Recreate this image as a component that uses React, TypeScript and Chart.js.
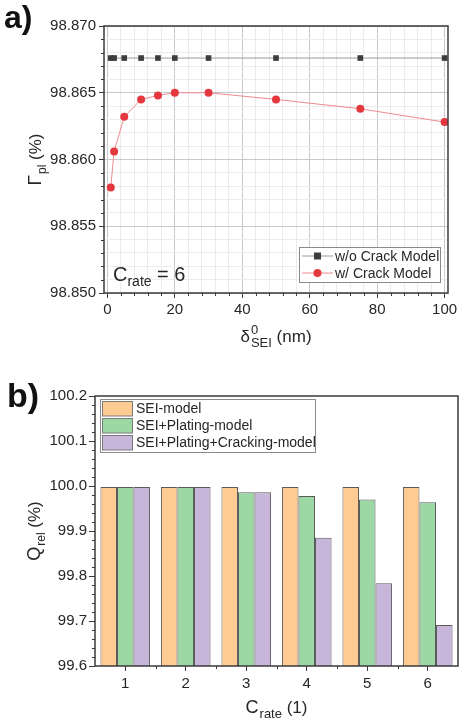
import React, { useEffect, useRef } from "react";
import { Chart, registerables } from "chart.js";
Chart.register(...registerables);

// ---------- data: panel a ----------
const sei_thickness = [1, 2, 5, 10, 15, 20, 30, 50, 75, 100];
const gamma_noCrack = [98.8676, 98.8676, 98.8676, 98.8676, 98.8676, 98.8676, 98.8676, 98.8676, 98.8676, 98.8676];
const gamma_crack = [98.8579, 98.8606, 98.8632, 98.8645, 98.8648, 98.865, 98.865, 98.8645, 98.8638, 98.8628];
const seriesA_labels = ["w/o Crack Model", "w/ Crack Model"];
const xTicksA = [0, 20, 40, 60, 80, 100];
const yTicksA = [98.85, 98.855, 98.86, 98.865, 98.87];

// ---------- data: panel b ----------
const c_rates = ["1", "2", "3", "4", "5", "6"];
const q_sei = [99.998, 99.998, 99.998, 99.998, 99.998, 99.998];
const q_plating = [99.998, 99.998, 99.986, 99.978, 99.97, 99.964];
const q_cracking = [99.998, 99.998, 99.986, 99.885, 99.784, 99.691];
const seriesB_labels = ["SEI-model", "SEI+Plating-model", "SEI+Plating+Cracking-model"];
const yTicksB = [99.6, 99.7, 99.8, 99.9, 100.0, 100.1, 100.2];

const FONT = '"Liberation Sans", Arial, sans-serif';
const TXT = "#262626";
const AXIS = "#3a3a3a";

type Part = { t: string; size: number; sup?: string; sub?: string; subSize?: number };

function drawRich(ctx: CanvasRenderingContext2D, parts: Part[], cx: number, by: number, angle: number) {
  ctx.save();
  ctx.translate(cx, by);
  ctx.rotate(angle);
  ctx.fillStyle = TXT;
  ctx.textBaseline = "alphabetic";
  ctx.textAlign = "left";
  const widths = parts.map((p) => {
    ctx.font = `${p.size}px ${FONT}`;
    let w = ctx.measureText(p.t).width;
    if (p.sup || p.sub) {
      ctx.font = `${p.subSize || 12}px ${FONT}`;
      const w1 = p.sup ? ctx.measureText(p.sup).width : 0;
      const w2 = p.sub ? ctx.measureText(p.sub).width : 0;
      w += Math.max(w1, w2) + 1;
    }
    return w;
  });
  const total = widths.reduce((a, b) => a + b, 0);
  let x = -total / 2;
  parts.forEach((p, i) => {
    ctx.font = `${p.size}px ${FONT}`;
    ctx.fillText(p.t, x, 0);
    const w0 = ctx.measureText(p.t).width;
    ctx.font = `${p.subSize || 12}px ${FONT}`;
    if (p.sup) ctx.fillText(p.sup, x + w0 + 1, -p.size * 0.45);
    if (p.sub) ctx.fillText(p.sub, x + w0 + 1, p.size * 0.28);
    x += widths[i];
  });
  ctx.restore();
}

const near = (a: number, b: number) => Math.abs(a - b) < 1e-7;

function drawFrame(chart: any) {
  const { ctx, chartArea: a } = chart;
  ctx.save();
  ctx.strokeStyle = AXIS;
  ctx.lineWidth = 1.5;
  ctx.strokeRect(a.left, a.top, a.right - a.left, a.bottom - a.top);
  ctx.restore();
}

function drawMinorTicks(chart: any, xVals: number[], yVals: number[], len: number) {
  const { ctx, chartArea: a, scales } = chart;
  ctx.save();
  ctx.strokeStyle = AXIS;
  ctx.lineWidth = 1;
  ctx.beginPath();
  xVals.forEach((v) => {
    const px = Math.round(scales.x.getPixelForValue(v)) + 0.5;
    ctx.moveTo(px, a.bottom);
    ctx.lineTo(px, a.bottom + len);
  });
  yVals.forEach((v) => {
    const py = Math.round(scales.y.getPixelForValue(v)) + 0.5;
    ctx.moveTo(a.left, py);
    ctx.lineTo(a.left - len, py);
  });
  ctx.stroke();
  ctx.restore();
}

// ---------- plugins ----------
const frameA = {
  id: "frameA",
  afterDatasetsDraw(chart: any) {
    drawFrame(chart);
    const xs: number[] = [];
    for (let v = 0; v <= 100; v += 4) if (!xTicksA.includes(v)) xs.push(v);
    const ys: number[] = [];
    for (let k = 0; k <= 20; k++) {
      const v = 98.85 + k * 0.001;
      if (!yTicksA.some((m) => near(m, v))) ys.push(v);
    }
    drawMinorTicks(chart, xs, ys, 3);
  },
  afterDraw(chart: any) {
    const { ctx, chartArea: a } = chart;
    const ds = chart.data.datasets;
    const bx = 299, by = 247, bw = 141, bh = 35;
    ctx.save();
    ctx.fillStyle = "#fff";
    ctx.fillRect(bx, by, bw, bh);
    ctx.strokeStyle = "#8a8a8a";
    ctx.lineWidth = 1;
    ctx.strokeRect(bx + 0.5, by + 0.5, bw, bh);
    ds.forEach((d: any, i: number) => {
      const y = by + 9 + i * 17;
      ctx.strokeStyle = d.borderColor;
      ctx.lineWidth = 1;
      ctx.beginPath();
      ctx.moveTo(bx + 3, y);
      ctx.lineTo(bx + 34, y);
      ctx.stroke();
      ctx.fillStyle = d.pointBackgroundColor;
      if (d.pointStyle === "rect") {
        ctx.fillRect(bx + 18.5 - 3.5, y - 3.5, 7, 7);
      } else {
        ctx.beginPath();
        ctx.arc(bx + 18.5, y, 4, 0, Math.PI * 2);
        ctx.fill();
      }
      ctx.fillStyle = TXT;
      ctx.font = `14px ${FONT}`;
      ctx.textBaseline = "middle";
      ctx.fillText(d.label, bx + 36, y + 1);
    });
    ctx.fillStyle = TXT;
    ctx.textBaseline = "alphabetic";
    ctx.font = `20px ${FONT}`;
    const cx = a.left + 9, cy = a.bottom - 12;
    ctx.fillText("C", cx, cy);
    const wC = ctx.measureText("C").width;
    ctx.font = `14px ${FONT}`;
    ctx.fillText("rate", cx + wC, cy + 5);
    const wr = ctx.measureText("rate").width;
    ctx.font = `20px ${FONT}`;
    ctx.fillText(" = 6", cx + wC + wr, cy);
    ctx.restore();
    drawRich(ctx, [{ t: "Γ", size: 19, sub: "pl", subSize: 12 }, { t: " (%)", size: 17 }], 41, (a.top + a.bottom) / 2, -Math.PI / 2);
    drawRich(
      ctx,
      [{ t: "δ", size: 17, sup: "0", sub: "SEI", subSize: 13 }, { t: " (nm)", size: 17 }],
      (a.left + a.right) / 2,
      342,
      0
    );
  },
};

const frameB = {
  id: "frameB",
  afterDatasetsDraw(chart: any) {
    drawFrame(chart);
    const xs = c_rates.map((_, i) => i + 0.5).slice(0, c_rates.length - 1);
    const ys: number[] = [];
    for (let k = 0; k <= 30; k++) {
      const v = 99.6 + k * 0.02;
      if (!yTicksB.some((m) => near(m, v))) ys.push(v);
    }
    drawMinorTicks(chart, xs, ys, 3);
  },
  afterDraw(chart: any) {
    const { ctx, chartArea: a } = chart;
    const ds = chart.data.datasets;
    const bx = 100, by = 39, bw = 215, bh = 53;
    ctx.save();
    ctx.fillStyle = "#fff";
    ctx.fillRect(bx, by, bw, bh);
    ctx.strokeStyle = "#8a8a8a";
    ctx.lineWidth = 1;
    ctx.strokeRect(bx + 0.5, by + 0.5, bw, bh);
    ds.forEach((d: any, i: number) => {
      const y = by + 9.5 + i * 17;
      ctx.fillStyle = d.backgroundColor;
      ctx.fillRect(bx + 2.5, y - 7, 30, 14.5);
      ctx.strokeStyle = "#7a7a7a";
      ctx.strokeRect(bx + 2.5, y - 7, 30, 14.5);
      ctx.fillStyle = TXT;
      ctx.font = `14px ${FONT}`;
      ctx.textBaseline = "middle";
      ctx.fillText(d.label, bx + 36, y + 1);
    });
    ctx.restore();
    drawRich(ctx, [{ t: "Q", size: 18, sub: "rel", subSize: 12 }, { t: " (%)", size: 17 }], 40, (a.top + a.bottom) / 2, -Math.PI / 2);
    drawRich(ctx, [{ t: "C", size: 18, sub: "rate", subSize: 13 }, { t: " (1)", size: 17 }], (a.left + a.right) / 2, 353, 0);
  },
};

function ChartA() {
  const ref = useRef<HTMLCanvasElement | null>(null);
  useEffect(() => {
    const chart = new Chart(ref.current!, {
      type: "line",
      data: {
        datasets: [
          {
            label: seriesA_labels[0],
            data: sei_thickness.map((x, i) => ({ x, y: gamma_noCrack[i] })),
            borderColor: "#9a9a9a",
            borderWidth: 1,
            pointStyle: "rect",
            pointRadius: 4,
            pointBackgroundColor: "#3d3d3d",
            pointBorderColor: "#3d3d3d",
            pointBorderWidth: 0,
          },
          {
            label: seriesA_labels[1],
            data: sei_thickness.map((x, i) => ({ x, y: gamma_crack[i] })),
            borderColor: "#f08a8e",
            borderWidth: 1,
            pointStyle: "circle",
            pointRadius: 4,
            pointBackgroundColor: "#e4383f",
            pointBorderColor: "#e4383f",
            pointBorderWidth: 0,
          },
        ],
      },
      options: {
        animation: false,
        responsive: false,
        devicePixelRatio: 1,
        layout: { padding: { left: 0, right: 26, top: 26, bottom: 37 } },
        plugins: { legend: { display: false }, tooltip: { enabled: false } },
        scales: {
          x: {
            type: "linear",
            min: -1,
            max: 101,
            afterFit: (s: any) => {
              s.height = 30;
            },
            afterBuildTicks: (s: any) => {
              const t = [];
              for (let v = 0; v <= 100; v += 4) t.push({ value: v });
              s.ticks = t;
            },
            border: { display: false },
            grid: {
              color: (c: any) => (xTicksA.includes(c.tick?.value) ? "#c9c9c9" : "#ececec"),
              lineWidth: 1,
              tickColor: (c: any) => (xTicksA.includes(c.tick?.value) ? AXIS : "rgba(0,0,0,0)"),
              tickLength: 5,
            },
            ticks: {
              autoSkip: false,
              maxRotation: 0,
              padding: 3,
              color: TXT,
              font: { family: FONT, size: 15 },
              callback: (v: any) => (xTicksA.includes(Number(v)) ? String(v) : ""),
            },
          },
          y: {
            type: "linear",
            min: 98.85,
            max: 98.87,
            afterFit: (s: any) => {
              s.width = 104;
            },
            afterBuildTicks: (s: any) => {
              const t = [];
              for (let k = 0; k <= 20; k++) t.push({ value: 98.85 + k * 0.001 });
              s.ticks = t;
            },
            border: { display: false },
            grid: {
              color: (c: any) => (yTicksA.some((m) => near(m, c.tick?.value ?? 0)) ? "#c9c9c9" : "#ececec"),
              lineWidth: 1,
              tickColor: (c: any) => (yTicksA.some((m) => near(m, c.tick?.value ?? 0)) ? AXIS : "rgba(0,0,0,0)"),
              tickLength: 5,
            },
            ticks: {
              autoSkip: false,
              padding: 3,
              color: TXT,
              font: { family: FONT, size: 15 },
              callback: (v: any) => {
                const m = yTicksA.find((t) => near(t, Number(v)));
                return m !== undefined ? m.toFixed(3) : "";
              },
            },
          },
        },
      },
      plugins: [frameA],
    } as any);
    return () => chart.destroy();
  }, []);
  return <canvas ref={ref} width={474} height={360} style={{ position: "absolute", left: 0, top: 0, width: 474, height: 360 }} />;
}

function ChartB() {
  const ref = useRef<HTMLCanvasElement | null>(null);
  useEffect(() => {
    const common = { borderColor: "#5a5a5a", borderWidth: 1, barPercentage: 1, categoryPercentage: 0.82 };
    const chart = new Chart(ref.current!, {
      type: "bar",
      data: {
        labels: c_rates,
        datasets: [
          { label: seriesB_labels[0], data: q_sei, backgroundColor: "#fecb93", ...common },
          { label: seriesB_labels[1], data: q_plating, backgroundColor: "#9bd8a3", ...common },
          { label: seriesB_labels[2], data: q_cracking, backgroundColor: "#c8b5da", ...common },
        ],
      },
      options: {
        animation: false,
        responsive: false,
        devicePixelRatio: 1,
        layout: { padding: { left: 0, right: 16, top: 36, bottom: 25 } },
        plugins: { legend: { display: false }, tooltip: { enabled: false } },
        scales: {
          x: {
            afterFit: (s: any) => {
              s.height = 30;
            },
            border: { display: false },
            grid: { offset: false, drawOnChartArea: false, tickColor: AXIS, tickLength: 5 },
            ticks: { padding: 4, color: TXT, font: { family: FONT, size: 15 } },
          },
          y: {
            type: "linear",
            min: 99.6,
            max: 100.2,
            afterFit: (s: any) => {
              s.width = 95;
            },
            afterBuildTicks: (s: any) => {
              const t = [];
              for (let k = 0; k <= 6; k++) t.push({ value: 99.6 + k * 0.1 });
              s.ticks = t;
            },
            border: { display: false },
            grid: {
              drawOnChartArea: false,
              tickColor: AXIS,
              tickLength: 6,
            },
            ticks: {
              autoSkip: false,
              padding: 2,
              color: TXT,
              font: { family: FONT, size: 15 },
              callback: (v: any) => {
                const m = yTicksB.find((t) => near(t, Number(v)));
                return m !== undefined ? m.toFixed(1) : "";
              },
            },
          },
        },
      },
      plugins: [frameB],
    } as any);
    return () => chart.destroy();
  }, []);
  return <canvas ref={ref} width={474} height={361} style={{ position: "absolute", left: 0, top: 360, width: 474, height: 361 }} />;
}

export default function App() {
  return (
    <div style={{ position: "absolute", left: 0, top: 0, width: 474, height: 721, overflow: "hidden", background: "#fff" }}>
      <ChartA />
      <ChartB />
      <div style={{ position: "absolute", left: 4, top: -1, font: `bold 32px ${FONT}`, color: "#111" }}>a)</div>
      <div style={{ position: "absolute", left: 7, top: 376, font: `bold 34px ${FONT}`, color: "#111" }}>b)</div>
    </div>
  );
}
